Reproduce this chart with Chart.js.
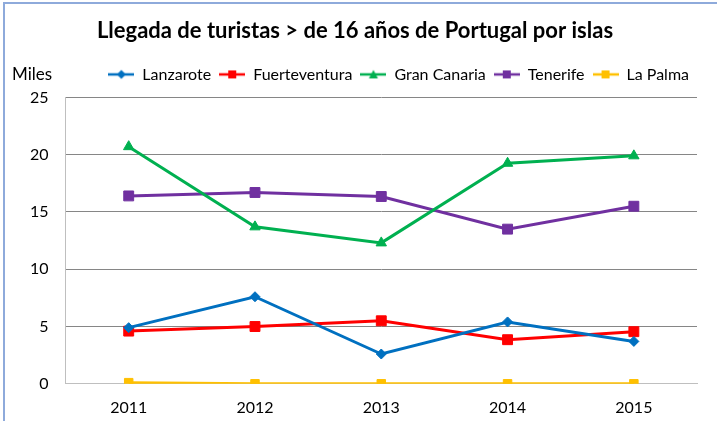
<!DOCTYPE html>
<html lang="es">
<head>
    <meta charset="UTF-8">
    <title>Llegada de turistas de Portugal por islas</title>
    <script src="https://cdn.jsdelivr.net/npm/chart.js"></script>
    <style>
        body { margin: 0; background: #fff; }
        #wrap {
            position: relative;
            width: 717px;
            height: 421px;
            overflow: hidden;
        }
        #frame {
            position: absolute;
            left: 3px;
            top: 2px;
            width: 720px;
            height: 430px;
            border-left: 2px solid #8eaadb;
            border-top: 2px solid #8eaadb;
            pointer-events: none;
        }
    </style>
</head>
<body>
    <div id="wrap">
        <canvas id="chart" width="717" height="421"></canvas>
        <div id="frame"></div>
    </div>

    <script>
        const years = ['2011', '2012', '2013', '2014', '2015'];
        const lanzarote = [4.9, 7.6, 2.6, 5.4, 3.7];
        const fuerteventura = [4.6, 5.0, 5.5, 3.85, 4.55];
        const granCanaria = [20.7, 13.7, 12.3, 19.25, 19.9];
        const tenerife = [16.4, 16.7, 16.35, 13.5, 15.5];
        const laPalma = [0.1, 0, 0, 0, 0];

        const FONT = 'Lato, "Open Sans", sans-serif';

        // legend icon: short line with the marker in the middle
        function legendIcon(color, style) {
            const c = document.createElement('canvas');
            c.width = 26; c.height = 12;
            const g = c.getContext('2d');
            g.strokeStyle = color; g.fillStyle = color; g.lineWidth = 2.5;
            g.beginPath(); g.moveTo(0, 6); g.lineTo(26, 6); g.stroke();
            g.beginPath();
            if (style === 'rectRot') {
                g.moveTo(13, 1.5); g.lineTo(17.5, 6); g.lineTo(13, 10.5); g.lineTo(8.5, 6);
            } else if (style === 'triangle') {
                g.moveTo(13, 1.5); g.lineTo(17.5, 10); g.lineTo(8.5, 10);
            } else {
                g.rect(9, 2, 8, 8);
            }
            g.closePath(); g.fill();
            return c;
        }

        function series(label, data, color, style, radius) {
            return {
                label: label,
                data: data,
                borderColor: color,
                backgroundColor: color,
                borderWidth: 3,
                pointStyle: style,
                pointRadius: radius,
                pointHoverRadius: radius,
                pointBorderWidth: 1,
                tension: 0,
                icon: legendIcon(color, style)
            };
        }

        const milesLabel = {
            id: 'milesLabel',
            beforeInit(chart) {
                // extra room between legend and plot
                const fit = chart.legend.fit;
                chart.legend.fit = function () {
                    fit.call(this);
                    this.height += 5;
                };
            },
            afterDraw(chart) {
                const ctx = chart.ctx;
                ctx.save();
                ctx.font = '17px ' + FONT;
                ctx.fillStyle = '#000';
                ctx.textBaseline = 'middle';
                ctx.fillText('Miles', 12, 75);
                ctx.restore();
            }
        };

        new Chart(document.getElementById('chart'), {
            type: 'line',
            data: {
                labels: years,
                datasets: [
                    series('Lanzarote', lanzarote, '#0070c0', 'rectRot', 5),
                    series('Fuerteventura', fuerteventura, '#ff0000', 'rect', 7),
                    series('Gran Canaria', granCanaria, '#00b050', 'triangle', 6),
                    series('Tenerife', tenerife, '#7030a0', 'rect', 7),
                    series('La Palma', laPalma, '#ffc000', 'rect', 6)
                ]
            },
            options: {
                responsive: false,
                animation: false,
                layout: { padding: { left: 13, right: 20, bottom: -2 } },
                plugins: {
                    title: {
                        display: true,
                        text: 'Llegada de turistas > de 16 años de Portugal por islas',
                        color: '#000',
                        font: { family: FONT, size: 22, weight: 'bold' },
                        padding: { top: 18, bottom: 14 }
                    },
                    legend: {
                        position: 'top',
                        align: 'end',
                        labels: {
                            color: '#000',
                            font: { family: FONT, size: 16 },
                            usePointStyle: true,
                            pointStyleWidth: 26,
                            boxHeight: 12,
                            padding: 8,
                            generateLabels(chart) {
                                return chart.data.datasets.map((ds, i) => ({
                                    text: ds.label,
                                    pointStyle: ds.icon,
                                    fillStyle: ds.borderColor,
                                    strokeStyle: ds.borderColor,
                                    lineWidth: 0,
                                    datasetIndex: i,
                                    hidden: false
                                }));
                            }
                        }
                    },
                    tooltip: { enabled: false }
                },
                scales: {
                    x: {
                        offset: true,
                        grid: { display: false },
                        border: { color: '#bfbfbf', width: 1 },
                        ticks: { color: '#000', font: { family: FONT, size: 16 }, padding: 6 }
                    },
                    y: {
                        min: 0,
                        max: 25,
                        ticks: { stepSize: 5, color: '#000', font: { family: FONT, size: 16 }, padding: 17 },
                        grid: { color: '#868686', drawTicks: false },
                        border: { color: '#bfbfbf', width: 1 }
                    }
                }
            },
            plugins: [milesLabel]
        });
    </script>
</body>
</html>
